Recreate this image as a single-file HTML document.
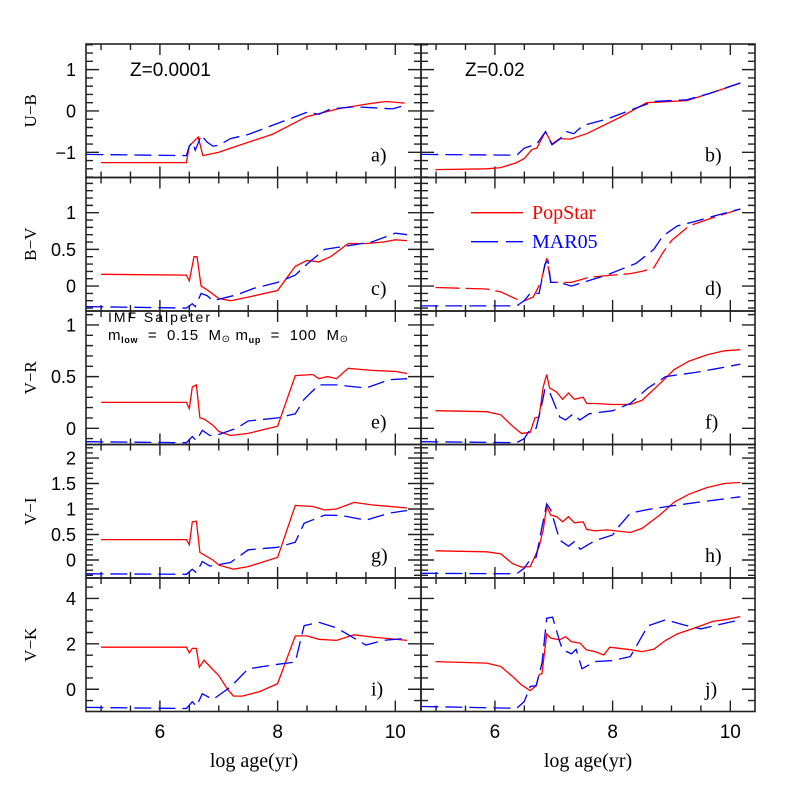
<!DOCTYPE html>
<html><head><meta charset="utf-8"><style>
body{margin:0;background:#fff}
svg{display:block}
text{font-family:"Liberation Sans",sans-serif}
.sf{font-family:"Liberation Serif",serif}
</style></head><body>
<svg id="chart" width="797" height="797" viewBox="0 0 797 797" xmlns="http://www.w3.org/2000/svg">
<g id="frames"></g>
<g id="curves"></g>
<g id="labels"></g>
<text x="130" y="76" font-size="19">Z=0.0001</text>
<text x="465" y="76" font-size="19">Z=0.02</text>
<g>
<line x1="471" y1="212.7" x2="523" y2="212.7" stroke="#ff0000" stroke-width="1.4"/>
<text class="sf" x="532" y="219" font-size="20" fill="#ff0000">PopStar</text>
<line x1="471" y1="241.7" x2="523" y2="241.7" stroke="#0000ff" stroke-width="1.4" stroke-dasharray="27 8"/>
<text class="sf" x="532" y="248" font-size="20" fill="#0000ff">MAR05</text>
</g>
<text x="108" y="322" font-size="14" textLength="102" lengthAdjust="spacing">IMF Salpeter</text>
<text x="108" y="340" font-size="15" textLength="240" lengthAdjust="spacing" xml:space="preserve">m<tspan font-size="9" font-weight="bold" dy="3">low</tspan><tspan dy="-3">  =  0.15  M</tspan><tspan font-size="10" dy="2">⊙</tspan><tspan dy="-2"> m</tspan><tspan font-size="9" font-weight="bold" dy="3">up</tspan><tspan dy="-3">  =  100  M</tspan><tspan font-size="10" dy="2">⊙</tspan></text>
<text x="254" y="767" font-size="20" text-anchor="middle" class="sf">log age(yr)</text>
<text x="588" y="767" font-size="20" text-anchor="middle" class="sf">log age(yr)</text>
</svg>
<script>
// ---- data ----
const rowNames = ["U−B","B−V","V−R","V−I","V−K"];
const rowRanges = [[-1.61,1.62],[-0.34,1.48],[-0.157,1.135],[-0.353,2.265],[-0.98,4.90]];
const rowMajor = [1,0.5,0.5,0.5,2];
const rowMinor = [0.2,0.1,0.1,0.1,0.5];
const rowTickLabels = [["1","0","−1"],["1","0.5","0"],["1","0.5","0"],["2","1.5","1","0.5","0"],["4","2","0"]];
const rowTickValues = [[1,0,-1],[1,0.5,0],[1,0.5,0],[2,1.5,1,0.5,0],[4,2,0]];
const xTickLabels = ["6","8","10"];
const xTickValues = [6,8,10];
const panelLetters = ["a)","b)","c)","d)","e)","f)","g)","h)","i)","j)"];

// panel a (U-B, Z=0.0001)
const aRedX=[5,6.45,6.5,6.6,6.65,6.73,7.0,7.35,7.92,8.49,9.05,9.62,9.85,10.16];
const aRedY=[-1.25,-1.25,-0.85,-0.7,-0.63,-1.08,-1.0,-0.83,-0.56,-0.14,0.06,0.19,0.23,0.19];
const aBlueX=[4.75,6.45,6.5,6.55,6.6,6.65,6.7,6.8,6.9,7.0,7.2,7.5,8.0,8.5,8.7,8.9,9.3,9.6,9.95,10.2];
const aBlueY=[-1.05,-1.08,-0.85,-0.75,-0.95,-0.78,-0.58,-0.75,-0.85,-0.83,-0.67,-0.57,-0.3,-0.03,-0.08,0.05,0.1,0.08,0.05,0.15];
// panel b (U-B, Z=0.02)
const bRedX=[4.99,5.86,6.1,6.37,6.5,6.63,6.71,6.86,6.97,7.1,7.28,7.56,8.13,8.58,9.26,9.66,10.17];
const bRedY=[-1.42,-1.4,-1.37,-1.25,-1.15,-0.93,-0.9,-0.5,-0.8,-0.67,-0.68,-0.55,-0.15,0.2,0.25,0.43,0.67];
const bBlueX=[4.75,6.37,6.5,6.6,6.71,6.86,6.97,7.1,7.22,7.34,7.5,7.9,8.36,8.7,9.26,9.66,10.17];
const bBlueY=[-1.05,-1.07,-0.9,-0.85,-0.8,-0.5,-0.82,-0.68,-0.5,-0.55,-0.35,-0.2,0.05,0.23,0.27,0.43,0.68];
// panel c (B-V, Z=0.0001)
const cRedX=[5,6.45,6.5,6.58,6.63,6.7,6.8,7.0,7.2,7.5,8.0,8.3,8.5,8.7,8.9,9.2,9.5,9.8,10.0,10.2];
const cRedY=[0.16,0.15,0.07,0.4,0.4,0.0,-0.05,-0.17,-0.2,-0.15,-0.06,0.27,0.35,0.33,0.4,0.58,0.58,0.6,0.63,0.62];
const cBlueX=[4.75,6.45,6.55,6.6,6.7,6.8,6.9,7.0,7.3,7.6,8.0,8.3,8.5,8.8,9.2,9.6,10.0,10.2];
const cBlueY=[-0.28,-0.3,-0.24,-0.28,-0.1,-0.13,-0.2,-0.18,-0.12,-0.03,0.05,0.15,0.3,0.5,0.55,0.6,0.72,0.7];
// panel d (B-V, Z=0.02)
const dRedX=[4.99,5.86,6.1,6.37,6.5,6.65,6.78,6.88,6.95,7.1,7.3,7.6,8.0,8.3,8.5,8.7,8.85,9.0,9.3,9.7,10.17];
const dRedY=[-0.02,-0.04,-0.08,-0.18,-0.2,-0.15,0.05,0.38,0.05,0.05,0.05,0.12,0.15,0.17,0.2,0.25,0.45,0.62,0.82,0.93,1.05];
const dBlueX=[4.75,6.37,6.5,6.6,6.75,6.85,6.9,6.95,7.1,7.3,7.5,7.9,8.4,8.7,8.85,9.1,9.4,9.7,10.17];
const dBlueY=[-0.27,-0.27,-0.2,-0.1,-0.1,0.3,0.35,0.05,0.05,0.0,0.05,0.15,0.31,0.5,0.68,0.82,0.88,0.95,1.05];
// panel e (V-R, Z=0.0001)
const eRedX=[5,6.45,6.5,6.55,6.62,6.68,6.75,6.9,7.0,7.2,7.5,8.0,8.3,8.6,8.7,8.85,9.0,9.2,9.4,9.6,10.0,10.2];
const eRedY=[0.25,0.25,0.19,0.4,0.42,0.1,0.09,0.03,-0.03,-0.07,-0.05,0.02,0.51,0.52,0.48,0.5,0.48,0.58,0.57,0.56,0.55,0.53];
const eBlueX=[4.75,6.45,6.55,6.62,6.72,6.85,7.0,7.3,7.5,8.0,8.3,8.45,8.7,9.0,9.5,9.9,10.2];
const eBlueY=[-0.13,-0.14,-0.08,-0.12,-0.02,-0.07,-0.06,0.0,0.07,0.1,0.14,0.28,0.42,0.42,0.39,0.47,0.48];
// panel f (V-R, Z=0.02)
const fRedX=[4.99,5.86,6.1,6.3,6.45,6.6,6.68,6.75,6.82,6.88,6.93,7.05,7.15,7.25,7.35,7.5,7.56,7.7,8.0,8.3,8.5,8.8,9.05,9.3,9.6,9.9,10.17];
const fRedY=[0.17,0.16,0.13,0.02,-0.05,-0.04,0.1,0.11,0.4,0.52,0.39,0.35,0.28,0.34,0.28,0.3,0.24,0.24,0.23,0.23,0.27,0.43,0.57,0.65,0.71,0.75,0.76];
const fBlueX=[4.75,6.37,6.5,6.6,6.7,6.8,6.85,6.93,7.1,7.2,7.33,7.44,7.6,8.0,8.3,8.6,8.9,9.4,9.8,10.17];
const fBlueY=[-0.13,-0.14,-0.1,-0.01,0.0,0.24,0.38,0.35,0.11,0.08,0.14,0.08,0.14,0.17,0.24,0.39,0.5,0.54,0.58,0.62];
// panel g (V-I, Z=0.0001)
const gRedX=[5,6.45,6.5,6.55,6.62,6.68,6.75,6.9,7.0,7.25,7.5,8.0,8.3,8.6,8.8,9.0,9.3,9.6,10.2];
const gRedY=[0.4,0.4,0.3,0.75,0.76,0.15,0.1,0.0,-0.1,-0.18,-0.13,0.05,1.07,1.05,0.98,1.0,1.13,1.08,1.02];
const gBlueX=[4.75,6.45,6.55,6.62,6.72,6.85,7.2,7.5,8.0,8.3,8.45,8.8,9.1,9.5,9.9,10.2];
const gBlueY=[-0.27,-0.28,-0.18,-0.25,-0.03,-0.12,-0.05,0.2,0.25,0.35,0.72,0.88,0.87,0.78,0.92,0.97];
// panel h (V-I, Z=0.02)
const hRedX=[4.99,5.86,6.1,6.3,6.45,6.6,6.68,6.75,6.82,6.88,6.95,7.05,7.15,7.25,7.35,7.5,7.56,7.7,7.9,8.3,8.5,8.8,9.05,9.3,9.6,9.9,10.17];
const hRedY=[0.18,0.16,0.12,-0.07,-0.14,-0.13,0.07,0.26,0.59,1.05,0.88,0.85,0.75,0.85,0.73,0.75,0.6,0.57,0.59,0.54,0.62,0.88,1.14,1.29,1.42,1.5,1.52];
const hBlueX=[4.75,6.37,6.5,6.6,6.7,6.8,6.88,6.95,7.1,7.25,7.35,7.45,7.7,8.0,8.1,8.3,8.6,9.0,9.5,10.17];
const hBlueY=[-0.26,-0.27,-0.16,0.01,0.05,0.65,1.1,0.98,0.39,0.27,0.36,0.21,0.38,0.49,0.65,0.92,0.99,1.06,1.14,1.24];
// panel i (V-K, Z=0.0001)
const iRedX=[5,6.45,6.5,6.55,6.62,6.67,6.75,6.85,7.0,7.15,7.25,7.4,7.7,8.0,8.3,8.5,8.7,9.0,9.3,9.6,10.2];
const iRedY=[1.85,1.85,1.6,1.8,1.8,0.97,1.28,1.0,0.6,0.0,-0.3,-0.3,-0.1,0.25,2.35,2.35,2.2,2.15,2.4,2.3,2.15];
const iBlueX=[4.75,6.45,6.55,6.62,6.72,6.9,7.2,7.5,8.0,8.3,8.45,8.7,9.0,9.5,9.8,10.2];
const iBlueY=[-0.8,-0.85,-0.55,-0.75,-0.2,-0.45,0.1,0.9,1.1,1.2,2.8,2.95,2.7,1.95,2.15,2.25];
// panel j (V-K, Z=0.02)
const jRedX=[4.99,5.86,6.1,6.3,6.45,6.6,6.7,6.75,6.8,6.88,6.95,7.1,7.2,7.3,7.45,7.55,7.7,7.85,7.95,8.3,8.5,8.7,8.9,9.1,9.4,9.7,9.9,10.17];
const jRedY=[1.22,1.15,1.0,0.56,0.19,-0.06,0.15,0.63,0.7,2.44,2.25,2.18,2.32,2.1,2.03,1.74,1.66,1.51,1.85,1.74,1.66,1.76,2.15,2.44,2.7,2.99,3.06,3.2];
const jBlueX=[4.75,6.37,6.5,6.6,6.7,6.8,6.88,6.98,7.1,7.15,7.3,7.38,7.48,7.7,8.0,8.3,8.6,8.9,9.2,9.5,9.8,10.17];
const jBlueY=[-0.76,-0.84,-0.54,0.12,0.15,1.15,3.13,3.18,2.1,1.74,1.56,1.76,0.9,1.22,1.26,1.44,2.79,3.06,2.84,2.66,2.84,3.06];

const panels=[
 [aRedX,aRedY,aBlueX,aBlueY],[bRedX,bRedY,bBlueX,bBlueY],
 [cRedX,cRedY,cBlueX,cBlueY],[dRedX,dRedY,dBlueX,dBlueY],
 [eRedX,eRedY,eBlueX,eBlueY],[fRedX,fRedY,fBlueX,fBlueY],
 [gRedX,gRedY,gBlueX,gBlueY],[hRedX,hRedY,hBlueX,hBlueY],
 [iRedX,iRedY,iBlueX,iBlueY],[jRedX,jRedY,jBlueX,jBlueY]];

// ---- layout ----
const NS="http://www.w3.org/2000/svg";
const colX=[86,421], colW=[335,334];
const rowTop=44, rowH=133.5;
const XMIN=4.744;
function xs(c,v){return colX[c]+(v-XMIN)*58.85;}
function ys(r,v){const [lo,hi]=rowRanges[r];const t=rowTop+r*rowH;return t+rowH*(hi-v)/(hi-lo);}
function mk(tag,attrs,parent){const e=document.createElementNS(NS,tag);for(const k in attrs)e.setAttribute(k,attrs[k]);parent.appendChild(e);return e;}
const gF=document.getElementById('frames'),gC=document.getElementById('curves'),gL=document.getElementById('labels');
const STK="#222";
for(let r=0;r<5;r++){
 const top=rowTop+r*rowH, bot=top+rowH;
 for(let c=0;c<2;c++){
  const x0=colX[c], x1=x0+colW[c];
  const fr=mk('rect',{x:x0,y:top,width:colW[c],height:rowH,fill:'none',stroke:STK,'stroke-width':1.6},gF);
  
  
  let d="";
  for(let v=5;v<=10.41;v+=0.5){
   const px=xs(c,v); const L=(Math.abs(v%2)<1e-6)?11:6;
   d+=`M${px},${bot}v${-L}M${px},${top}v${L}`;
  }
  const [lo,hi]=rowRanges[r];
  const st=rowMinor[r];
  for(let k=Math.ceil(lo/st-1e-6);k*st<=hi+1e-9;k++){
   const v=k*st; const py=ys(r,v);
   const isMaj=Math.abs(v/rowMajor[r]-Math.round(v/rowMajor[r]))<1e-6;
   const L=isMaj?13:7;
   d+=`M${x0},${py}h${L}M${x1},${py}h${-L}`;
  }
  const tk=mk('path',{d:d,stroke:STK,'stroke-width':1.4,fill:'none'},gF);
  
  
  const p=panels[r*2+c];
  const lr=mk('polyline',{points:p[0].map((x,i)=>xs(c,x).toFixed(1)+','+ys(r,p[1][i]).toFixed(1)).join(' '),fill:'none',stroke:'#ff0000','stroke-width':1.3},gC);
  if(r===1&&c===1) lr.setAttribute('stroke-dasharray','24 6');
  
  
  const lb=mk('polyline',{points:p[2].map((x,i)=>xs(c,x).toFixed(1)+','+ys(r,p[3][i]).toFixed(1)).join(' '),fill:'none',stroke:'#0000ff','stroke-width':1.3,'stroke-dasharray':'17 7'},gC);
  
  
  const pl=mk('text',{x:x1-50,y:bot-16,'font-size':20,class:'sf'},gL);
  pl.textContent=panelLetters[r*2+c];
  
  
 }
 rowTickValues[r].forEach((v,i)=>{
  const t=mk('text',{x:76,y:ys(r,v)+6.5,'font-size':18,'text-anchor':'end'},gL);
  t.textContent=rowTickLabels[r][i];
  
  
 });
 const cy=top+rowH/2;
 const yt=mk('text',{x:0,y:0,'font-size':17,'text-anchor':'middle',class:'sf',transform:`translate(36,${cy}) rotate(-90)`},gL);
 yt.textContent=rowNames[r];
 
 
}
for(let c=0;c<2;c++){
 xTickValues.forEach((v,i)=>{
  const t=mk('text',{x:xs(c,v),y:738,'font-size':19,'text-anchor':'middle'},gL);
  t.textContent=xTickLabels[i];
  
  
 });
}
</script>
</body></html>
